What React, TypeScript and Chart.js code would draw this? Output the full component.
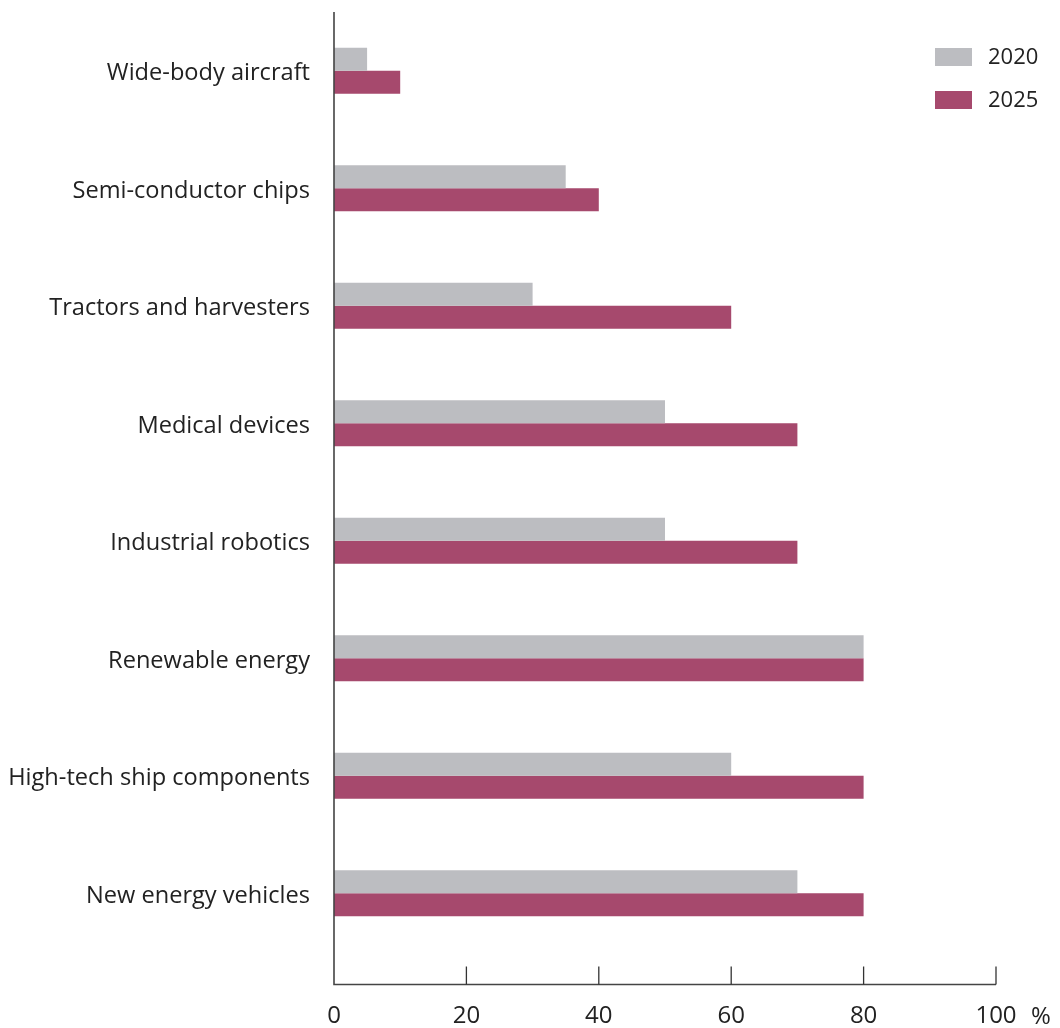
import React, { useEffect, useRef } from "react";
import { Chart, registerables } from "chart.js";

Chart.register(...registerables);

const categories = [
  "Wide-body aircraft",
  "Semi-conductor chips",
  "Tractors and harvesters",
  "Medical devices",
  "Industrial robotics",
  "Renewable energy",
  "High-tech ship components",
  "New energy vehicles",
];
const seriesLabels = ["2020", "2025"];
const values2020 = [5, 35, 30, 50, 50, 80, 60, 70];
const values2025 = [10, 40, 60, 70, 70, 80, 80, 80];
const xTicks = [0, 20, 40, 60, 80, 100];
const unitLabel = "%";

const GRAY = "#BCBDC1";
const MAGENTA = "#A6496D";
const TEXT = "#222222";
const FONT = "'Open Sans'";

const axisPlugin = {
  id: "customAxes",
  afterDraw(chart: any) {
    const { ctx, chartArea, scales } = chart;
    const x = scales.x;
    const x0 = x.getPixelForValue(0);
    const x100 = x.getPixelForValue(100);
    const axisY = chartArea.bottom + 32.5;
    ctx.save();
    ctx.strokeStyle = "#444";
    ctx.lineWidth = 1.6;
    ctx.beginPath();
    ctx.moveTo(x0, chartArea.top);
    ctx.lineTo(x0, axisY);
    ctx.lineTo(x100, axisY);
    ctx.stroke();
    ctx.lineWidth = 1.3;
    ctx.strokeStyle = "#333";
    xTicks.forEach((t) => {
      if (t === 0) return;
      const px = x.getPixelForValue(t);
      ctx.beginPath();
      ctx.moveTo(px, axisY);
      ctx.lineTo(px, axisY - 18);
      ctx.stroke();
    });
    // unit label
    ctx.fillStyle = TEXT;
    ctx.font = `24px ${FONT}`;
    ctx.textBaseline = "middle";
    ctx.textAlign = "center";
    ctx.fillText(unitLabel, x100 + 45, chartArea.bottom + 65);

    // legend
    const lx = chartArea.right - 61;
    chart.data.datasets.forEach((ds: any, i: number) => {
      const ly = 48 + i * 43;
      ctx.fillStyle = ds.backgroundColor;
      ctx.fillRect(lx, ly, 37, 18);
      ctx.fillStyle = TEXT;
      ctx.font = `22px ${FONT}`;
      ctx.textAlign = "left";
      ctx.textBaseline = "middle";
      ctx.fillText(ds.label, lx + 53, ly + 9.5);
    });
    ctx.restore();
  },
};

export default function App() {
  const ref = useRef<HTMLCanvasElement | null>(null);
  useEffect(() => {
    if (!ref.current) return;
    const chart = new Chart(ref.current, {
      type: "bar",
      data: {
        labels: categories,
        datasets: [
          { label: seriesLabels[0], data: values2020, backgroundColor: GRAY },
          { label: seriesLabels[1], data: values2025, backgroundColor: MAGENTA },
        ],
      },
      options: {
        indexAxis: "y",
        responsive: false,
        animation: false,
        datasets: {
          bar: { categoryPercentage: 0.392, barPercentage: 1.0 },
        },
        layout: { padding: { top: 12, right: 64, bottom: 0, left: 0 } },
        plugins: {
          legend: { display: false },
          tooltip: { enabled: false },
        },
        scales: {
          x: {
            type: "linear",
            position: "bottom",
            min: 0,
            max: 100,
            afterBuildTicks: (s: any) => {
              s.ticks = xTicks.map((v) => ({ value: v }));
            },
            ticks: {
              color: TEXT,
              font: { family: FONT, size: 24 },
              padding: 50,
              maxRotation: 0,
            },
            grid: { display: false, drawTicks: false },
            border: { display: false },
            afterFit: (s: any) => {
              s.height = 76;
              s.paddingLeft = 0;
              s.paddingRight = 0;
              s.paddingTop = 0;
              s.paddingBottom = 0;
            },
          },
          y: {
            type: "category",
            ticks: {
              color: TEXT,
              font: { family: FONT, size: 23.6 },
              padding: 24,
              labelOffset: 3,
            },
            grid: { display: false, drawTicks: false },
            border: { display: false },
            afterFit: (s: any) => {
              s.width = 334;
              s.paddingLeft = 0;
              s.paddingRight = 0;
              s.paddingTop = 0;
              s.paddingBottom = 0;
            },
          },
        },
      },
      plugins: [axisPlugin],
    });
    if ((document as any).fonts && (document as any).fonts.load) {
      (document as any).fonts.load(`22px ${FONT}`).then(() => chart.update()).catch(() => {});
    }
    return () => chart.destroy();
  }, []);
  return (
    <div style={{ position: "absolute", left: 0, top: 0, width: 1060, height: 1028, background: "#fff" }}>
      <canvas ref={ref} width={1060} height={1028} />
    </div>
  );
}
